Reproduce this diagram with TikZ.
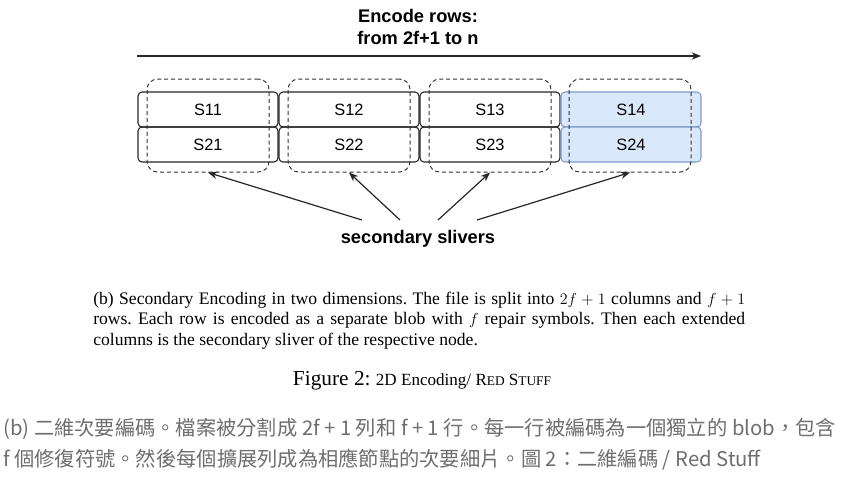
\documentclass[tikz,border=0pt]{standalone}
\usepackage{fontspec}
\setmainfont{Liberation Serif}
\setsansfont{Liberation Sans}
\newfontfamily\cjkfont{Noto Sans CJK TC}
\usetikzlibrary{arrows.meta}
\frenchspacing

\definecolor{blobblue}{HTML}{DAE8FC}
\definecolor{blobedge}{HTML}{7E9CCB}
\definecolor{notegray}{HTML}{6E6E6E}

\tikzset{
  cell/.style={draw=black!85, line width=0.8pt, rounded corners=3pt,
    minimum width=105pt, minimum height=26.25pt, inner sep=0pt,
    font=\sffamily\fontsize{12.3}{14}\selectfont},
  extcell/.style={cell, draw=blobedge, fill=blobblue},
  sliver/.style={draw=black!80, dash pattern=on 3pt off 2.2pt, line width=0.75pt,
    rounded corners=8pt, minimum width=91.5pt, minimum height=69.75pt},
  pointer/.style={-{Stealth[length=7pt,width=5.5pt]}, line width=0.9pt, draw=black!85},
  bigtext/.style={font=\sffamily\bfseries\fontsize{13.7}{16}\selectfont},
  captext/.style={anchor=base west, inner sep=0pt, font=\fontsize{13.2}{15}\selectfont},
  notetext/.style={anchor=west, inner sep=0pt, text=notegray, font=\cjkfont\fontsize{15.2}{17}\selectfont},
}

\begin{document}
\begin{tikzpicture}[x=0.75pt, y=-0.75pt]
  \useasboundingbox (0,0) rectangle (857,476);
  % heading over the rows
  \node[bigtext] (head1) at (418,16) {Encode rows:};
  \node[bigtext] (head2) at (418,38) {from 2f+1 to n};
  \coordinate (rowstart) at (137,56);
  \coordinate (rowend) at (701,56);
  \draw[pointer] (rowstart) -- (rowend);
  % symbols
  \foreach \c/\x in {1/208,2/349,3/490} {
    \node[cell] (s1\c) at (\x,109.5) {S1\c};
    \node[cell] (s2\c) at (\x,144.5) {S2\c};
  }
  \node[extcell] (s14) at (631,109.5) {S14};
  \node[extcell] (s24) at (631,144.5) {S24};
  % columns = secondary slivers
  \foreach \c/\x in {1/208,2/349,3/490,4/630}
    \node[sliver] (col\c) at (\x,125.5) {};
  \node[bigtext] (slv) at (418,239) {secondary slivers};
  \foreach \c/\x in {1/362,2/400,3/438,4/477} {
    \coordinate (from\c) at (\x,220);
    \draw[pointer] (from\c) -- (col\c.south);
  }
  % caption
  \node[captext] (cap1) at (93,304) {\makebox[489pt][s]{(b) Secondary Encoding in two dimensions. The file is split into $2f+1$ columns and $f+1$}};
  \node[captext] (cap2) at (93,324.5) {\makebox[489pt][s]{rows. Each row is encoded as a separate blob with $f$ repair symbols. Then each extended}};
  \node[captext] (cap3) at (93,345) {columns is the secondary sliver of the respective node.};
  \node[anchor=base, inner sep=0pt] (fig) at (422,385) {\fontsize{16}{18}\selectfont Figure 2: \fontsize{12.8}{15}\selectfont 2D Encoding/ R{\fontsize{10}{12}\selectfont ED} S{\fontsize{10}{12}\selectfont TUFF}};
  % translation
  \node[notetext] (note1) at (3,429) {(b) 二維次要編碼。檔案被分割成 2f + 1 列和 f + 1 行。每一行被編碼為一個獨立的 blob，包含};
  \node[notetext] (note2) at (3,460) {f 個修復符號。然後每個擴展列成為相應節點的次要細片。圖 2：二維編碼 / Red Stuff};
\end{tikzpicture}
\end{document}
